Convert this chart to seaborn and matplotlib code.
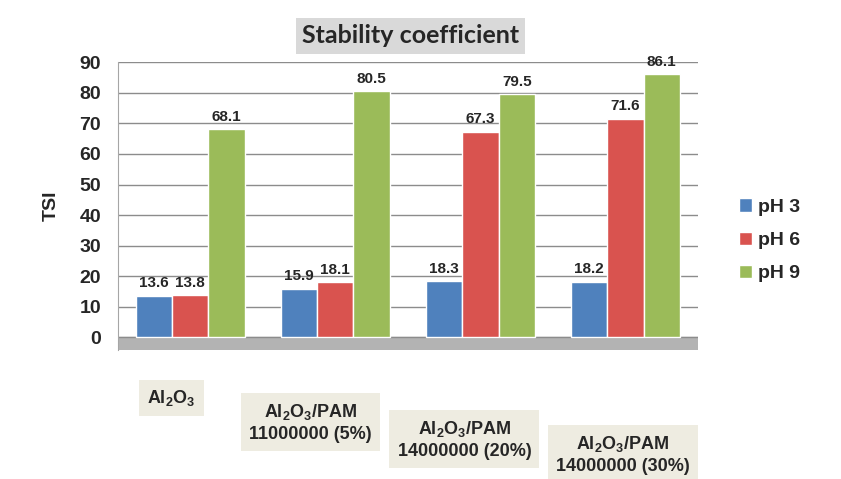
import pandas as pd
import matplotlib
matplotlib.use('Agg')
from matplotlib import pyplot as plt
from matplotlib.transforms import blended_transform_factory
import seaborn as sns

sns.set_style('white')
plt.rcParams['font.family'] = ['Liberation Sans', 'DejaVu Sans']
plt.rcParams['mathtext.fontset'] = 'custom'
plt.rcParams['mathtext.bf'] = 'Liberation Sans:bold'
plt.rcParams['mathtext.rm'] = 'Liberation Sans:bold'
plt.rcParams['mathtext.default'] = 'bf'

# Dados
categories = [r'Al$_2$O$_3$',
              'Al$_2$O$_3$/PAM\n11000000 (5%)',
              'Al$_2$O$_3$/PAM\n14000000 (20%)',
              'Al$_2$O$_3$/PAM\n14000000 (30%)']
series = ['pH 3', 'pH 6', 'pH 9']
ph3 = [13.6, 15.9, 18.3, 18.2]
ph6 = [13.8, 18.1, 67.3, 71.6]
ph9 = [68.1, 80.5, 79.5, 86.1]
yticks = [0, 10, 20, 30, 40, 50, 60, 70, 80, 90]

colors = ['#4F81BD', '#D9534F', '#9BBB59']

rows = []
for s, vals in zip(series, [ph3, ph6, ph9]):
    for c, v in zip(categories, vals):
        rows.append({'cat': c, 'pH': s, 'TSI': v})
df = pd.DataFrame(rows)

fig = plt.figure(figsize=(8.41, 4.79), dpi=100)
ax = fig.add_axes([0.14, 0.27, 0.69, 0.6])

# "chão" cinza do gráfico
ax.axhspan(-4, 0, color='#b3b3b3', zorder=0)
sns.barplot(data=df, x='cat', y='TSI', hue='pH', palette=colors,
            width=0.75, gap=0.0, ax=ax, zorder=3, saturation=1)

for cont in ax.containers:
    ax.bar_label(cont, fmt='%.1f', padding=4, fontsize=11, fontweight='bold')

ax.set_ylim(-4, 90)
ax.set_yticks(yticks)
ax.set_yticklabels([str(t) for t in yticks], fontsize=14, fontweight='bold')
ax.yaxis.grid(True, color='#8c8c8c', linewidth=1.0, zorder=1)
ax.set_axisbelow(True)
ax.set_xticks([])
ax.set_xlabel('')
ax.set_ylabel('TSI', fontsize=14, fontweight='bold', labelpad=14)
for sp in ['top', 'right', 'bottom']:
    ax.spines[sp].set_visible(False)
ax.spines['left'].set_color('#a6a6a6')
ax.tick_params(axis='y', length=0, pad=12)

# Rótulos das categorias em caixas
trans = blended_transform_factory(ax.transData, ax.transAxes)
label_x = [-0.13, 0.83, 1.89, 2.98]
label_y = [-0.167, -0.254, -0.314, -0.366]
for c, xx, yy in zip(categories, label_x, label_y):
    ax.text(xx, yy, c, transform=trans, ha='center', va='center',
            fontsize=13, fontweight='bold', linespacing=1.3,
            bbox=dict(boxstyle='square,pad=0.45', fc='#eeece1', ec='none'))

fig.text(0.488, 0.925, 'Stability coefficient', ha='center', va='center',
         fontsize=18, fontweight='bold', family=['Lato', 'DejaVu Sans'],
         bbox=dict(boxstyle='square,pad=0.25', fc='#d9d9d9', ec='none'))

ax.legend(loc='center left', bbox_to_anchor=(1.04, 0.38), frameon=False,
          prop={'weight': 'bold', 'size': 14}, handlelength=0.7,
          handleheight=0.7, handletextpad=0.3, labelspacing=0.8)

fig.savefig('out.png', dpi=100)
